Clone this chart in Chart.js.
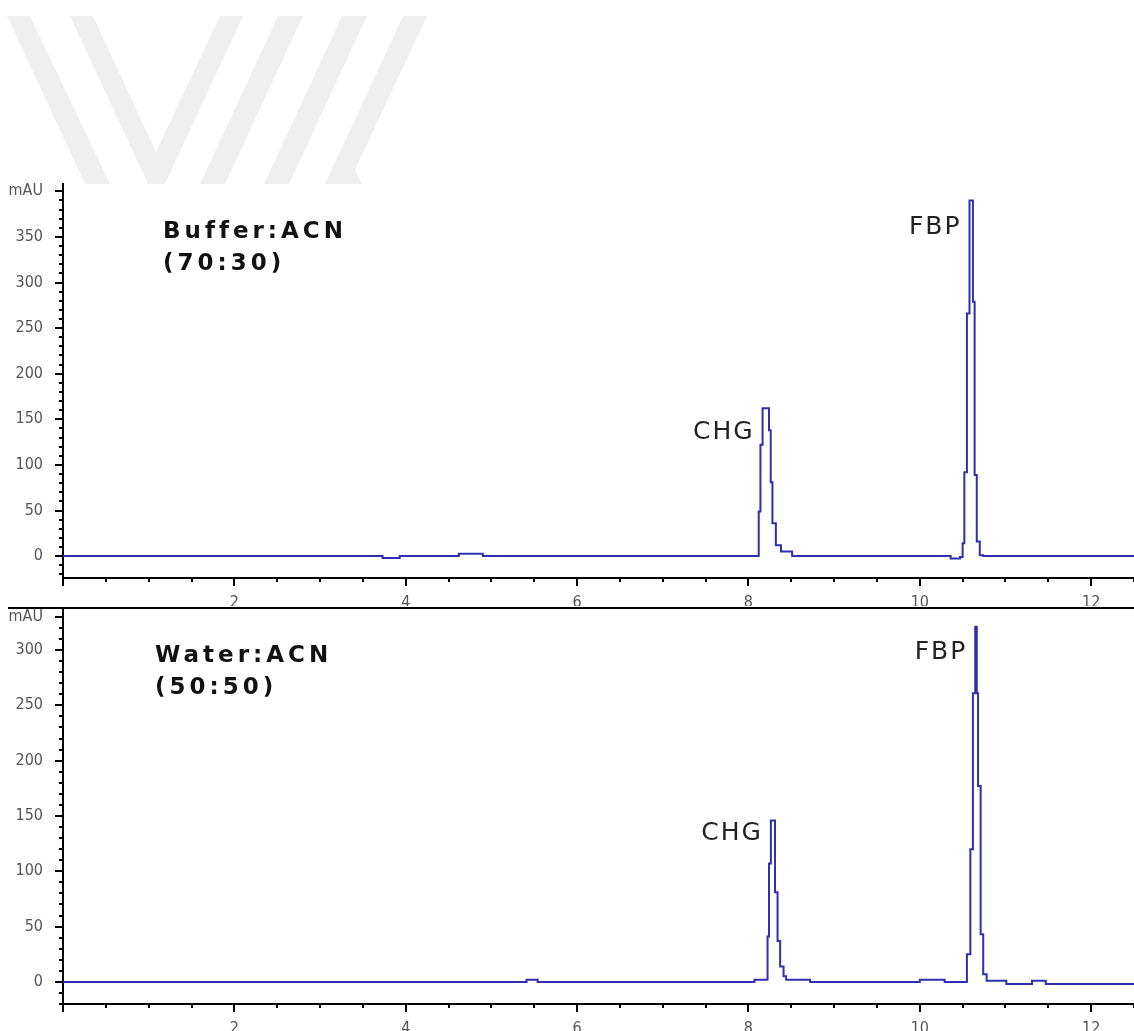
<!DOCTYPE html>
<html lang="en">
<head>
<meta charset="UTF-8">
<title>HPLC Chromatograms</title>
<script src="https://cdn.jsdelivr.net/npm/chart.js"></script>
<style>
  body { margin: 0; background: #fff; }
  #wrap { position: relative; width: 1134px; height: 1031px; overflow: hidden; }
  canvas { position: absolute; left: 0; }
  #topChart { top: 0; }
  #bottomChart { top: 606px; }
</style>
</head>
<body>
<div id="wrap">
  <canvas id="topChart" width="1134" height="606"></canvas>
  <canvas id="bottomChart" width="1134" height="425"></canvas>
</div>
<script>
// retention time (min) and signal (mAU); each value holds until the next time
const bufferTime   = [0, 3.73, 3.93, 4.62, 4.9, 8.12, 8.14, 8.165, 8.24, 8.26, 8.28, 8.32, 8.38, 8.51,
                      10.36, 10.47, 10.5, 10.52, 10.55, 10.58, 10.62, 10.64, 10.665, 10.7, 10.74, 12.5];
const bufferSignal = [0, -2, 0, 2.5, 0, 49, 122, 162, 138, 81, 36, 12, 5, 0,
                      -2.5, -1, 14, 92, 266, 390, 279, 89, 16, 1, 0, 0];

const waterTime   = [0, 5.41, 5.54, 8.07, 8.223, 8.24, 8.262, 8.31, 8.34, 8.37, 8.41, 8.44, 8.72,
                     10.0, 10.29, 10.55, 10.59, 10.62, 10.647, 10.665, 10.68, 10.71, 10.74, 10.78,
                     11.01, 11.31, 11.47, 12.5];
const waterSignal = [0, 2, 0, 2, 41, 107, 146, 81, 37, 14, 5, 2, 0,
                     2, 0, 25, 120, 261, 321, 261, 177, 43, 7, 1,
                     -2, 1, -2, -2];

const peakNames = ['CHG', 'FBP'];
const bufferPeakTimes = [8.165, 10.58];
const waterPeakTimes = [8.262, 10.647];

const bufferTitle = ['Buffer:ACN', '(70:30)'];
const waterTitle = ['Water:ACN', '(50:50)'];

const timeMin = 0, timeMax = 12.5;
const bufferRange = [-24, 408], bufferUnitTick = 400;
const waterRange = [-20, 338], waterUnitTick = 330;

const tickFont = { family: '"Liberation Sans Narrow", "DejaVu Sans Condensed", "Liberation Sans", sans-serif', size: 16 };

function toPoints(xs, ys) {
  return xs.map((x, i) => ({ x: x, y: ys[i] }));
}

function peakHeight(xs, ys, t) {
  let h = 0;
  xs.forEach((x, i) => { if (Math.abs(x - t) < 0.12) h = Math.max(h, ys[i]); });
  return h;
}

// background stripes at the top of the page
const stripes = {
  id: 'stripes',
  beforeDraw(chart, args, opts) {
    if (!opts.show) return;
    const ctx = chart.ctx;
    const shapes = [
      [[7,16],[30,16],[110,184],[85,184]],
      [[70,16],[93,16],[156,152],[220,16],[243,16],[165,184],[148,184]],
      [[278,16],[303,16],[225,184],[200,184]],
      [[342,16],[367,16],[289,184],[264,184]],
      [[403,16],[427,16],[355,170],[362,184],[325,184]]
    ];
    ctx.save();
    ctx.fillStyle = '#efefef';
    shapes.forEach(s => {
      ctx.beginPath();
      s.forEach((p, i) => i ? ctx.lineTo(p[0], p[1]) : ctx.moveTo(p[0], p[1]));
      ctx.closePath();
      ctx.fill();
    });
    ctx.restore();
  }
};

// tick marks, panel titles and peak names
const decor = {
  id: 'decor',
  afterDraw(chart, args, opts) {
    const ctx = chart.ctx;
    const xs = chart.scales.x, ys = chart.scales.y;
    const area = chart.chartArea;
    ctx.save();
    ctx.strokeStyle = '#000';
    ctx.lineWidth = 2;

    if (opts.topRule) {
      ctx.beginPath();
      ctx.moveTo(8, area.top);
      ctx.lineTo(chart.width, area.top);
      ctx.stroke();
    }

    ctx.beginPath();
    for (let v = Math.ceil(ys.min / 10) * 10; v <= ys.max; v += 10) {
      const py = Math.round(ys.getPixelForValue(v));
      const len = (v % 50 === 0 || v === opts.unitTick) ? 8 : 4;
      ctx.moveTo(area.left - len, py);
      ctx.lineTo(area.left, py);
    }
    for (let v = Math.ceil(xs.min * 2) / 2; v <= xs.max; v += 0.5) {
      const px = Math.round(xs.getPixelForValue(v));
      const len = (v % 2 === 0) ? 8 : 4;
      ctx.moveTo(px, area.bottom);
      ctx.lineTo(px, area.bottom + len);
    }
    ctx.stroke();

    ctx.fillStyle = '#111';
    ctx.textAlign = 'left';
    ctx.textBaseline = 'alphabetic';
    ctx.font = 'bold 23px "DejaVu Sans"';
    ctx.letterSpacing = '4px';
    opts.title.forEach((line, i) => {
      ctx.fillText(line, area.left + opts.titleX, area.top + 54 + i * 32);
    });

    ctx.font = '25px "DejaVu Sans"';
    ctx.letterSpacing = '2px';
    ctx.fillStyle = '#222';
    ctx.textAlign = 'right';
    ctx.textBaseline = 'middle';
    opts.peaks.forEach((t, i) => {
      const h = peakHeight(opts.times, opts.signal, t);
      const px = xs.getPixelForValue(t) - 8;
      const py = ys.getPixelForValue(h) + opts.labelDy[i];
      ctx.fillText(peakNames[i], px, py);
    });
    ctx.restore();
  }
};

function makeChart(id, times, signal, range, unitTick, padTop, axisHeight, extra) {
  return new Chart(document.getElementById(id), {
    type: 'line',
    data: {
      datasets: [{
        data: toPoints(times, signal),
        stepped: 'before',
        borderColor: '#2f2fb0',
        borderWidth: 2,
        pointRadius: 0,
        fill: false
      }]
    },
    options: {
      responsive: false,
      animation: false,
      layout: { padding: { top: padTop, left: 0, right: 0, bottom: 0 } },
      plugins: {
        legend: { display: false },
        tooltip: { enabled: false },
        stripes: { show: extra.stripes },
        decor: {
          topRule: extra.topRule,
          unitTick: unitTick,
          title: extra.title,
          titleX: extra.titleX,
          peaks: extra.peaks,
          times: times,
          signal: signal,
          labelDy: extra.labelDy
        }
      },
      scales: {
        x: {
          type: 'linear',
          min: timeMin,
          max: timeMax,
          grid: { display: false },
          border: { display: true, color: '#000', width: 2 },
          ticks: {
            stepSize: 0.5,
            autoSkip: false,
            includeBounds: false,
            maxRotation: 0,
            padding: 7,
            color: '#555',
            font: tickFont,
            callback: v => (v > 0 && v % 2 === 0) ? String(v) : ''
          },
          afterFit: s => { s.height = axisHeight; s.paddingLeft = 0; s.paddingRight = 0; }
        },
        y: {
          min: range[0],
          max: range[1],
          grid: { display: false },
          border: { display: true, color: '#000', width: 2 },
          ticks: {
            stepSize: 10,
            autoSkip: false,
            includeBounds: false,
            padding: 12,
            color: '#555',
            font: tickFont,
            callback: v => {
              if (v === unitTick) return 'mAU';
              if (v >= 0 && v < unitTick && v % 50 === 0) return String(v);
              return '';
            }
          },
          afterFit: s => { s.width = 63; s.paddingTop = 0; s.paddingBottom = 0; }
        }
      }
    },
    plugins: [stripes, decor]
  });
}

makeChart('topChart', bufferTime, bufferSignal, bufferRange, bufferUnitTick, 184, 28, {
  stripes: true, topRule: false, title: bufferTitle, titleX: 100,
  peaks: bufferPeakTimes, labelDy: [24, 27]
});

makeChart('bottomChart', waterTime, waterSignal, waterRange, waterUnitTick, 2, 27, {
  stripes: false, topRule: true, title: waterTitle, titleX: 92,
  peaks: waterPeakTimes, labelDy: [13, 26]
});
</script>
</body>
</html>
